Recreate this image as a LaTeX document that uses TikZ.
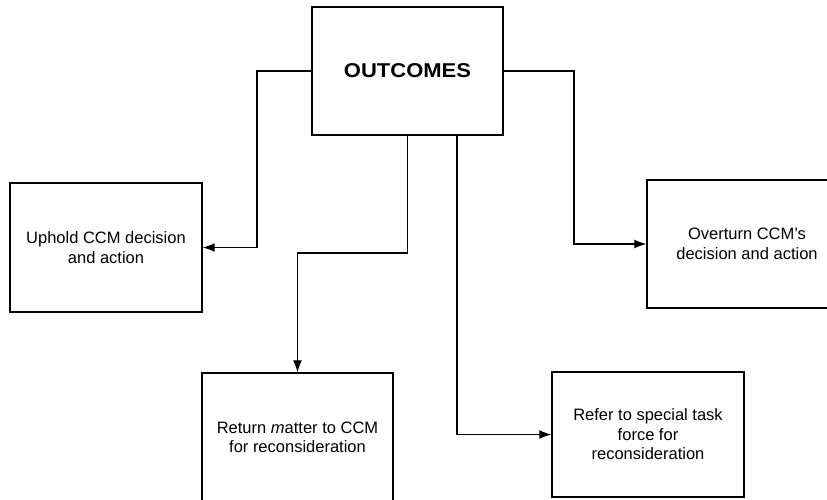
\documentclass[tikz,border=0pt]{standalone}
\usepackage{fontspec}
\setmainfont{Liberation Sans}
\usetikzlibrary{arrows.meta}
\begin{document}
\begin{tikzpicture}[x=1pt,y=-1pt,
  box/.style={draw,line width=1.4pt,rectangle,inner sep=0pt,align=center,
    font=\fontsize{16.5}{19.5}\selectfont},
  conn/.style={line width=1.3pt,-{Latex[length=12pt,width=9pt]}}]
\useasboundingbox (0,0) rectangle (827,499);
\clip (0,0) rectangle (827,499);
\node[box,minimum width=191pt,minimum height=128pt,
  font=\fontsize{20}{24}\selectfont\bfseries] (out) at (407.5,71)
  {\scalebox{1.1}[1]{OUTCOMES}};
\node[box,minimum width=192pt,minimum height=129pt] (uph) at (106,247.5)
  {Uphold CCM decision\\and action};
\node[box,minimum width=200pt,minimum height=128pt] (ovt) at (747,244)
  {Overturn CCM's\\decision and action};
\node[box,minimum width=191pt,minimum height=129pt] (ret) at (297.5,437.5)
  {Return \textit{m}atter to CCM\\for reconsideration};
\node[box,minimum width=192pt,minimum height=125pt] (ref) at (648,434.5)
  {Refer to special task\\force for\\reconsideration};
\coordinate (c1) at (257,71);
\coordinate (c2) at (574,71);
\coordinate (c3) at (407.5,253);
\coordinate (c4) at ([xshift=49.5pt]out.south);
\draw[conn] (out.west) -- (c1) |- (uph.east);
\draw[conn] (out.east) -- (c2) |- (ovt.west);
\draw[conn] (out.south) -- (c3) -| (ret.north);
\draw[conn] (c4) |- (ref.west);
\end{tikzpicture}
\end{document}
